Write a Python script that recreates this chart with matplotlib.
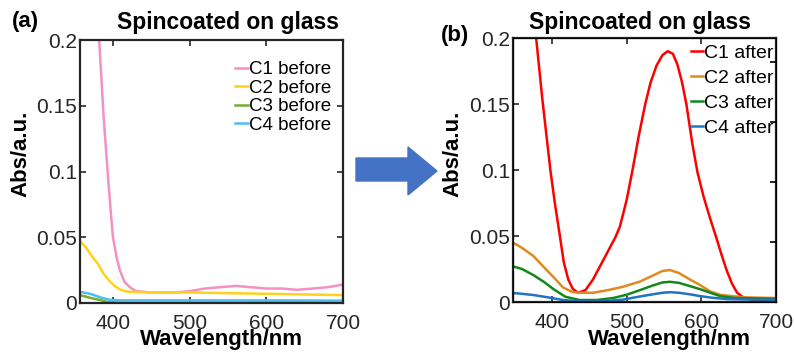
import matplotlib
matplotlib.use('Agg')
import matplotlib.pyplot as plt
from matplotlib.patches import Polygon

plt.rcParams['font.family'] = ['Liberation Sans', 'DejaVu Sans']

# (a) before
wl_c1_before = [357, 365, 372, 378, 382, 388, 393, 397, 400, 405, 409, 415, 422, 430, 450,
                480, 500, 520, 540, 560, 580, 600, 620, 640, 660, 680, 700]
c1_before = [0.42, 0.34, 0.27, 0.225, 0.2, 0.14, 0.1, 0.07, 0.05, 0.034, 0.025, 0.016, 0.012,
             0.009, 0.008, 0.008, 0.009, 0.011, 0.012, 0.013, 0.012, 0.011, 0.011, 0.010,
             0.011, 0.012, 0.014]
wl_c2_before = [357, 365, 372, 380, 388, 395, 402, 410, 420, 450, 500, 550, 600, 650, 700]
c2_before = [0.047, 0.042, 0.036, 0.03, 0.022, 0.017, 0.013, 0.010, 0.0085, 0.008, 0.008,
             0.0075, 0.007, 0.0065, 0.006]
wl_c3_before = [357, 370, 385, 395, 420, 500, 600, 700]
c3_before = [0.006, 0.004, 0.002, 0.0005, 0.0002, 0.0003, 0.0005, 0.001]
wl_c4_before = [357, 370, 385, 395, 410, 500, 600, 700]
c4_before = [0.0085, 0.007, 0.004, 0.0025, 0.002, 0.002, 0.002, 0.0018]

# (b) after
wl_c1_after = [348, 360, 370, 379, 387, 395, 398, 404, 411, 416, 422, 428, 435, 445, 455, 470,
               485, 491, 500, 508, 516, 525, 532, 540, 548, 555, 562, 568, 574, 580, 588, 595,
               603, 612, 620, 627, 634, 641, 648, 655, 665, 680, 700]
c1_after = [0.34, 0.28, 0.24, 0.2, 0.155, 0.115, 0.1, 0.075, 0.049, 0.03, 0.017, 0.01, 0.007,
            0.009, 0.017, 0.033, 0.049, 0.057, 0.077, 0.1, 0.125, 0.15, 0.166, 0.179, 0.187,
            0.19, 0.188, 0.18, 0.167, 0.15, 0.12, 0.098, 0.08, 0.063, 0.049, 0.036, 0.024,
            0.014, 0.007, 0.004, 0.002, 0.001, 0.001]
wl_c2_after = [348, 360, 375, 390, 402, 415, 428, 440, 455, 475, 495, 518, 535, 548, 558, 570,
               585, 598, 612, 625, 640, 660, 700]
c2_after = [0.045, 0.041, 0.035, 0.026, 0.019, 0.011, 0.0075, 0.007, 0.007, 0.009, 0.0115,
            0.0155, 0.02, 0.0235, 0.0242, 0.022, 0.017, 0.013, 0.008, 0.0055, 0.0045, 0.0035,
            0.003]
wl_c3_after = [348, 360, 375, 390, 402, 418, 437, 460, 482, 500, 518, 535, 548, 558, 570, 585,
               598, 612, 625, 645, 700]
c3_after = [0.027, 0.025, 0.0205, 0.015, 0.0098, 0.004, 0.0015, 0.0015, 0.003, 0.0055, 0.009,
            0.0125, 0.0148, 0.0153, 0.0145, 0.012, 0.0098, 0.007, 0.0045, 0.003, 0.0025]
wl_c4_after = [348, 360, 375, 395, 415, 435, 455, 475, 495, 518, 535, 548, 558, 570, 585, 598,
               615, 635, 660, 700]
c4_after = [0.0068, 0.0062, 0.0053, 0.0035, 0.0015, 0.0006, 0.0004, 0.0008, 0.0018, 0.0042,
            0.0058, 0.007, 0.0074, 0.007, 0.0058, 0.0045, 0.0032, 0.0022, 0.0019, 0.0017]

x_ticks = [400, 500, 600, 700]
y_ticks = [0, 0.05, 0.1, 0.15, 0.2]
y_ticklabels = ['0', '0.05', '0.1', '0.15', '0.2']

fig = plt.figure(figsize=(7.94, 3.54), dpi=100)
W, H = 794, 354


def make_axes(left, top, right, bottom):
    return fig.add_axes([left / W, 1 - bottom / H, (right - left) / W, (bottom - top) / H])


def style(ax, xlim):
    ax.set_xlim(*xlim)
    ax.set_ylim(0, 0.2)
    ax.set_xticks(x_ticks)
    ax.set_yticks(y_ticks)
    ax.set_yticklabels(y_ticklabels)
    ax.tick_params(direction='in', top=True, right=True, length=4, width=1.2,
                   labelsize=15, colors='#262626')
    ax.tick_params(axis='x', pad=8)
    ax.tick_params(axis='y', pad=2)
    for s in ax.spines.values():
        s.set_linewidth(1.6)
        s.set_color('#262626')


# panel (a)
ax1 = make_axes(80, 40, 343, 303)
ax1.plot(wl_c1_before, c1_before, color='#f590c3', lw=1.8, label='C1 before')
ax1.plot(wl_c2_before, c2_before, color='#ffd21a', lw=1.8, label='C2 before')
ax1.plot(wl_c3_before, c3_before, color='#77ac30', lw=1.8, label='C3 before')
ax1.plot(wl_c4_before, c4_before, color='#4dbeee', lw=1.8, label='C4 before')
style(ax1, (357, 700))
ax1.legend(loc='upper right', bbox_to_anchor=(0.955, 0.92), frameon=False, fontsize=13.5,
           handlelength=0.7, handletextpad=0.05, labelspacing=0.08, borderpad=0,
           borderaxespad=0)

# panel (b)
ax2 = make_axes(513, 38, 776, 302)
ax2.plot(wl_c1_after, c1_after, color='#ff0000', lw=1.8, label='C1 after')
ax2.plot(wl_c2_after, c2_after, color='#e08a1e', lw=1.8, label='C2 after')
ax2.plot(wl_c3_after, c3_after, color='#13891a', lw=1.8, label='C3 after')
ax2.plot(wl_c4_after, c4_after, color='#1f74c4', lw=1.8, label='C4 after')
style(ax2, (348, 700))
ax2.tick_params(right=False)
ax2r = ax2.twinx()
ax2r.set_ylim(0, 0.22)
ax2r.set_yticks([0.05, 0.1, 0.15, 0.2])
ax2r.tick_params(direction='in', length=4, width=1.2, labelright=False)
ax2.legend(loc='upper right', bbox_to_anchor=(0.99, 0.975), frameon=False, fontsize=14,
           handlelength=0.6, handletextpad=0.05, labelspacing=0.38, borderpad=0,
           borderaxespad=0)

# titles, panel labels, axis labels
for x, t in [(228, 'Spincoated on glass'), (640, 'Spincoated on glass')]:
    fig.text(x / W, 1 - 23 / H, t, fontsize=16.5, fontweight='bold', ha='center', va='center')
fig.text(25 / W, 1 - 22 / H, '(a)', fontsize=16, fontweight='bold', ha='center', va='center')
fig.text(455 / W, 1 - 35 / H, '(b)', fontsize=16, fontweight='bold', ha='center', va='center')
for x in (221, 669):
    fig.text(x / W, 1 - 340 / H, 'Wavelength/nm', fontsize=16, fontweight='bold',
             ha='center', va='center')
for x in (21, 453):
    fig.text(x / W, 1 - 154 / H, 'Abs/a.u.', fontsize=16, fontweight='bold', rotation=90,
             ha='center', va='center')

# arrow between panels
overlay = fig.add_axes([0, 0, 1, 1], zorder=-1)
overlay.set_xlim(0, W)
overlay.set_ylim(H, 0)
overlay.axis('off')
overlay.add_patch(Polygon([(356, 158), (408, 158), (408, 147), (437, 171), (408, 195),
                           (408, 181), (356, 181)], closed=True, color='#4472c4'))

fig.savefig('out.png', dpi=100)
